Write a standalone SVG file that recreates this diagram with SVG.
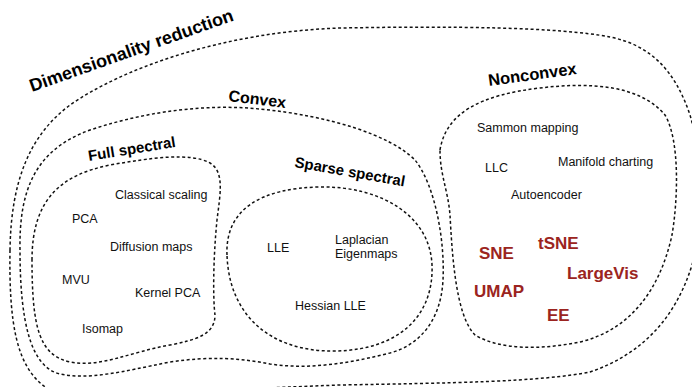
<svg xmlns="http://www.w3.org/2000/svg" width="692" height="387" viewBox="0 0 692 387">
<style>
.region{fill:none;stroke:#111;stroke-width:1.5;stroke-dasharray:3 2.5;}
.title{font-family:"Liberation Sans",Arial,Helvetica,sans-serif;font-weight:bold;fill:#000;}
.m{font-family:"Liberation Sans",Arial,Helvetica,sans-serif;font-size:12.5px;fill:#111;}
.r{font-family:"Liberation Sans",Arial,Helvetica,sans-serif;font-size:17px;font-weight:bold;fill:#9b2420;}
</style>
<rect width="692" height="387" fill="#fff"/>
<g id="dimensionality-reduction">
<path class="region" d="M 10,250 C 9,320 15,370 50,390 C 90,400 200,390 340,385 C 450,383 540,382 590,372 C 640,355 675,320 692,265 C 705,220 703,160 690,115 C 675,70 650,45 610,37 C 560,27 450,26 340,28 C 220,32 120,70 70,105 C 30,135 11,180 10,250 Z"/>
<text class="title" font-size="18" transform="translate(32,92) rotate(-19.5)">Dimensionality reduction</text>
</g>
<g id="convex">
<path class="region" d="M 20,250 C 19,190 35,150 90,130 C 150,110 210,104 260,109 C 330,116 390,135 415,160 C 435,185 445,240 443,280 C 441,320 420,345 390,353 C 350,363 310,370 270,364 C 240,358 210,356 170,362 C 120,372 90,380 60,374 C 30,367 20,320 20,250 Z"/>
<text class="title" font-size="16" transform="translate(228,101) rotate(7)">Convex</text>
</g>
<g id="full-spectral">
<path class="region" d="M 32,260 C 32,200 60,175 110,165 C 150,158 190,152 210,163 C 225,172 220,195 217,220 C 213,260 213,300 215,315 C 215,335 195,340 170,345 C 130,352 100,368 70,362 C 40,355 32,330 32,260 Z"/>
<text class="title" font-size="15" transform="translate(89,161) rotate(-9.2)">Full spectral</text>
<text class="m" x="115" y="199">Classical scaling</text>
<text class="m" x="72" y="223">PCA</text>
<text class="m" x="110" y="251">Diffusion maps</text>
<text class="m" x="62" y="284">MVU</text>
<text class="m" x="135" y="297">Kernel PCA</text>
<text class="m" x="82" y="333">Isomap</text>
</g>
<g id="sparse-spectral">
<path class="region" d="M 227,255 C 225,210 260,188 320,187 C 380,186 430,215 432,265 C 434,315 400,350 335,351 C 270,352 229,315 227,255 Z"/>
<text class="title" font-size="15" transform="translate(294,167) rotate(10)">Sparse spectral</text>
<text class="m" x="267" y="252">LLE</text>
<text class="m" x="335" y="244">Laplacian</text>
<text class="m" x="335" y="258">Eigenmaps</text>
<text class="m" x="295" y="310">Hessian LLE</text>
</g>
<g id="nonconvex">
<path class="region" d="M 440,150 C 446,113 480,95 540,88 C 590,82 640,85 665,115 C 680,140 678,200 672,235 C 660,290 630,330 580,342 C 540,350 500,350 475,335 C 455,315 452,250 450,215 C 448,190 440,175 440,150 Z"/>
<text class="title" font-size="16.5" transform="translate(489,86) rotate(-7.7)">Nonconvex</text>
<text class="m" x="477" y="132">Sammon mapping</text>
<text class="m" x="485" y="172">LLC</text>
<text class="m" x="558" y="166">Manifold charting</text>
<text class="m" x="511" y="199">Autoencoder</text>
<text class="r" x="538" y="249">tSNE</text>
<text class="r" x="479" y="259">SNE</text>
<text class="r" x="567" y="279" font-size="16.5">LargeVis</text>
<text class="r" x="474" y="297">UMAP</text>
<text class="r" x="547" y="321">EE</text>
</g>
<g id="connectors"/>
</svg>
